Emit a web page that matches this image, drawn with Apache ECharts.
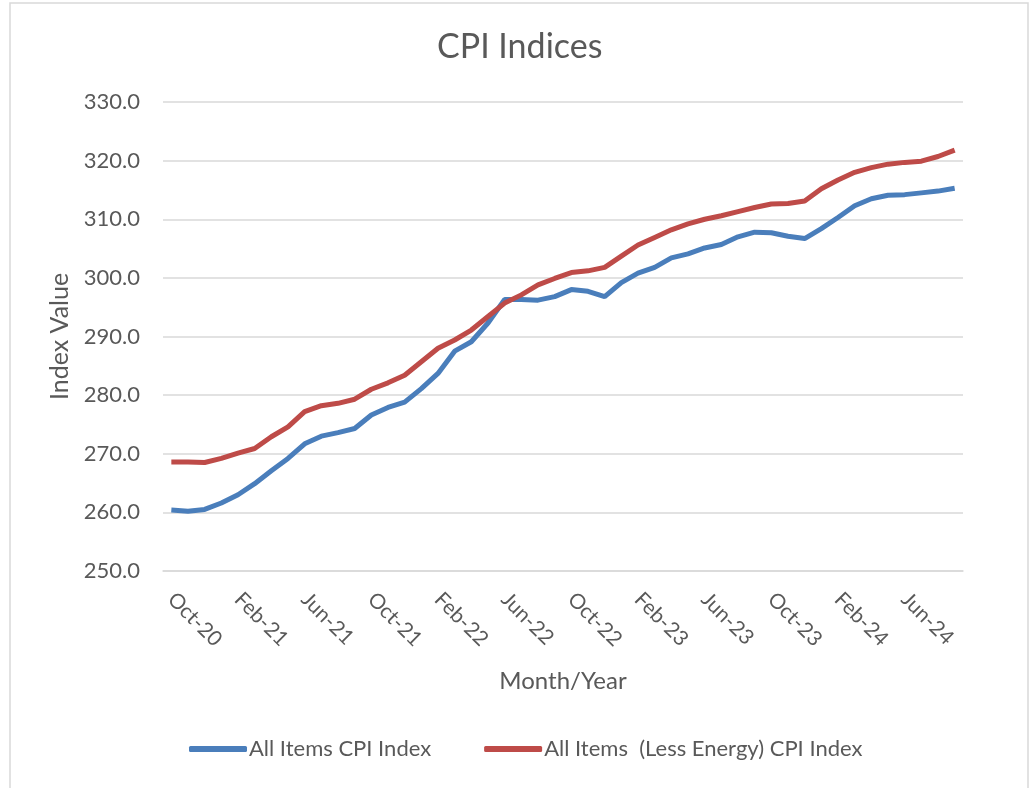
<!DOCTYPE html>
<html>
<head>
    <meta charset="utf-8">
    <title>CPI Indices</title>
    <script src="https://cdn.jsdelivr.net/npm/echarts@6/dist/echarts.min.js"></script>
    <style>
        * { padding: 0; margin: 0; }
        body { background: #fff; }
    </style>
</head>
<body>
    <div id="main" style="width:1030px;height:788px;"></div>
    <script type="text/javascript">
        // month labels, Oct-20 .. Sep-24
        var months = [
            'Oct-20', 'Nov-20', 'Dec-20',
            'Jan-21', 'Feb-21', 'Mar-21', 'Apr-21', 'May-21', 'Jun-21', 'Jul-21', 'Aug-21', 'Sep-21', 'Oct-21', 'Nov-21', 'Dec-21',
            'Jan-22', 'Feb-22', 'Mar-22', 'Apr-22', 'May-22', 'Jun-22', 'Jul-22', 'Aug-22', 'Sep-22', 'Oct-22', 'Nov-22', 'Dec-22',
            'Jan-23', 'Feb-23', 'Mar-23', 'Apr-23', 'May-23', 'Jun-23', 'Jul-23', 'Aug-23', 'Sep-23', 'Oct-23', 'Nov-23', 'Dec-23',
            'Jan-24', 'Feb-24', 'Mar-24', 'Apr-24', 'May-24', 'Jun-24', 'Jul-24', 'Aug-24', 'Sep-24'
        ];

        var allItems = [
            260.4, 260.2, 260.5,
            261.6, 263.0, 264.9, 267.1, 269.2, 271.7, 273.0, 273.6, 274.3, 276.6, 277.9, 278.8,
            281.1, 283.7, 287.5, 289.1, 292.3, 296.3, 296.3, 296.2, 296.8, 298.0, 297.7, 296.8,
            299.2, 300.8, 301.8, 303.4, 304.1, 305.1, 305.7, 307.0, 307.8, 307.7, 307.1, 306.7,
            308.4, 310.3, 312.3, 313.5, 314.1, 314.2, 314.5, 314.8, 315.3
        ];

        var lessEnergy = [
            268.6, 268.6, 268.5,
            269.2, 270.1, 270.9, 272.9, 274.6, 277.2, 278.2, 278.6, 279.3, 281.0, 282.1, 283.4,
            285.7, 288.0, 289.4, 291.1, 293.4, 295.7, 297.1, 298.8, 299.9, 300.9, 301.2, 301.8,
            303.7, 305.6, 306.9, 308.2, 309.2, 310.0, 310.6, 311.3, 312.0, 312.6, 312.7, 313.1,
            315.2, 316.7, 318.0, 318.8, 319.4, 319.7, 319.9, 320.7, 321.8
        ];

        var font = 'Lato, "Open Sans", sans-serif';
        var grey = '#595959';

        var myChart = echarts.init(document.getElementById('main'));

        var option = {
            backgroundColor: '#fff',
            animation: false,
            textStyle: { fontFamily: font },
            title: {
                text: 'CPI Indices',
                left: 432,
                top: 25,
                textStyle: { fontFamily: font, fontSize: 34, fontWeight: 'normal', color: grey }
            },
            graphic: [{
                type: 'rect',
                shape: { x: 10, y: 3, width: 1018, height: 800 },
                style: { fill: 'none', stroke: '#d9d9d9', lineWidth: 1.5 },
                silent: true
            }],
            legend: {
                bottom: 23,
                left: 184,
                itemWidth: 58,
                itemHeight: 6,
                itemGap: 53,
                icon: 'roundRect',
                textStyle: { fontFamily: font, fontSize: 22, color: grey, padding: [0, 0, 0, -3] },
                data: ['All Items CPI Index', 'All Items  (Less Energy) CPI Index']
            },
            grid: {
                left: 163,
                right: 67,
                top: 102,
                bottom: 217
            },
            xAxis: {
                type: 'category',
                data: months,
                boundaryGap: true,
                name: 'Month/Year',
                nameLocation: 'middle',
                nameGap: 98,
                nameTextStyle: { fontFamily: font, fontSize: 24, color: grey },
                axisLine: { show: true, lineStyle: { color: '#d9d9d9', width: 1.5 } },
                axisTick: { show: false },
                axisLabel: {
                    interval: 3,
                    rotate: -45,
                    margin: 25,
                    fontFamily: font,
                    fontSize: 21,
                    color: grey
                }
            },
            yAxis: {
                type: 'value',
                min: 250,
                max: 330,
                interval: 10,
                name: 'Index Value',
                nameLocation: 'middle',
                nameGap: 88,
                nameTextStyle: { fontFamily: font, fontSize: 25, color: grey },
                axisLine: { show: false },
                axisTick: { show: false },
                axisLabel: {
                    margin: 23,
                    fontFamily: font,
                    fontSize: 22,
                    color: grey,
                    formatter: function (v) { return v.toFixed(1); }
                },
                splitLine: { lineStyle: { color: '#d9d9d9', width: 1.5 } }
            },
            series: [{
                name: 'All Items CPI Index',
                type: 'line',
                data: allItems,
                symbol: 'none',
                color: '#4a7ebb',
                lineStyle: { width: 5, color: '#4a7ebb' }
            }, {
                name: 'All Items  (Less Energy) CPI Index',
                type: 'line',
                data: lessEnergy,
                symbol: 'none',
                color: '#be4b48',
                lineStyle: { width: 5, color: '#be4b48' }
            }]
        };

        myChart.setOption(option);
        window.onresize = myChart.resize;
    </script>
</body>
</html>
